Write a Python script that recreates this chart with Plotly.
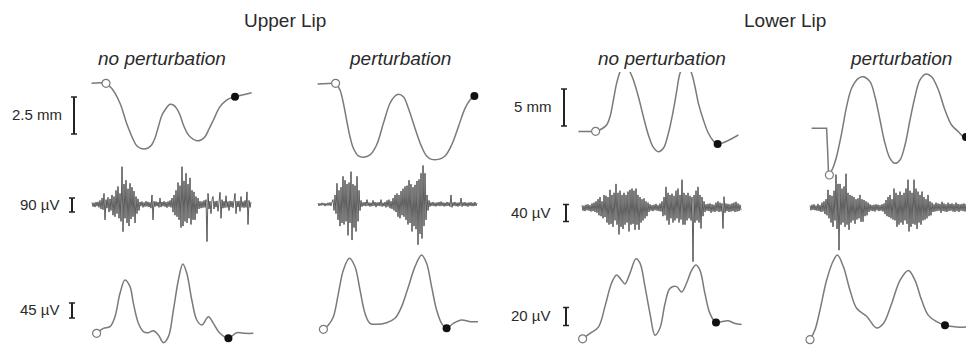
import numpy as np
import plotly.graph_objects as go

# ======================= DATA =======================
lip_titles = ["Upper Lip", "Lower Lip"]
condition_titles = ["no perturbation", "perturbation", "no perturbation", "perturbation"]

# Scale bars (value, unit) per row: movement, raw EMG, rectified EMG
ul_scale_values = [2.5, 90, 45]
ul_scale_units = ["mm", "µV", "µV"]
ll_scale_values = [5, 40, 20]
ll_scale_units = ["mm", "µV", "µV"]

# ---- Lip movement (time in ms, displacement in mm) ----
ul_np_mov_t = [18, 85, 118, 160, 193, 227, 245, 276, 300, 318, 335, 352, 370, 385, 410, 430, 443, 460,
               477, 493, 510, 543, 565, 585, 605, 627, 660, 693, 715, 735, 818]
ul_np_mov_mm = [0, 0, -0.34, -1.35, -2.70, -3.83, -4.24, -4.44, -4.37, -4.17, -3.70, -2.93, -2.14, -1.80,
                -1.42, -1.50, -1.69, -2.14, -2.82, -3.29, -3.61, -3.88, -3.83, -3.61, -3.09, -2.48, -1.58,
                -1.13, -0.99, -0.91, -0.64]
ul_np_mov_on = (90, 0.0)
ul_np_mov_off = (735, -0.91)

ul_p_mov_t = [28, 107, 118, 140, 157, 173, 190, 207, 232, 257, 290, 323, 357, 390, 415, 432, 457, 482,
              515, 548, 573, 598, 632, 665, 698, 732, 765, 790, 812]
ul_p_mov_mm = [-0.05, 0, 0, -0.45, -1.35, -2.48, -3.61, -4.39, -4.91, -5.0, -4.84, -4.17, -2.70, -1.35,
               -0.86, -0.74, -0.91, -1.69, -3.04, -4.28, -4.91, -5.14, -5.14, -4.91, -4.17, -2.93, -1.69,
               -1.13, -0.86]
ul_p_mov_on = (118, 0.0)
ul_p_mov_off = (812, -0.86)

ll_np_mov_t = [22, 80, 108, 138, 163, 180, 197, 213, 230, 255, 280, 297, 322, 347, 372, 397, 422, 447,
               472, 497, 513, 530, 560, 588, 605, 622, 647, 672, 697, 718, 822]
ll_np_mov_mm = [0, 0, 0.03, 0.34, 0.88, 2.0, 4.26, 6.51, 8.08, 9.66, 8.08, 6.96, 4.70, 2.0, -0.47, -2.14,
                -2.73, -2.27, -0.24, 2.91, 5.38, 7.86, 9.66, 7.86, 6.05, 3.81, 1.55, -0.24, -1.28, -1.69,
                -0.47]
ll_np_mov_on = (108, 0.03)
ll_np_mov_off = (718, -1.69)

ll_p_mov_t = [33, 108, 113, 117, 122, 142, 158, 183, 208, 233, 267, 292, 325, 350, 375, 400, 425, 450,
              475, 500, 525, 550, 575, 605, 633, 667, 700, 733, 767, 792, 805, 875]
ll_p_mov_mm = [0, 0, -2.93, -5.64, -6.31, -5.19, -3.81, -0.68, 2.92, 5.41, 6.76, 6.97, 6.30, 4.27, 1.12,
               -2.03, -4.05, -4.73, -4.28, -2.26, 1.12, 4.27, 6.53, 7.34, 6.97, 5.18, 2.47, 0.45, -0.46,
               -1.14, -1.18, -1.58]
ll_p_mov_on = (122, -6.31)
ll_p_mov_off = (805, -1.18)

# ---- Raw EMG (µV), one sample every 5 ms from the given start time ----
RAW_DT = 5
ul_np_raw_start = 20
ul_np_raw_uv = [
    12, -15, 10, -18, 14, -12, 16, -20,
    25, -30, 40, -35, 70, -100, 30, -25, 45, -50, 35, -40,
    60, -70, 50, -80, 90, -60, 115, -90, 70, -110,
    242, -176, 130, -90, 155, -120, 100, -140, 135, -95, 110, -80, 85, -120,
    50, -60, 35, -40,
    15, -12, 18, -20, 12, -15, 20, -14, 16, -18, 12, -25, 60, -100, 20, -15, 18, -12, 14, -20, 40, -18,
    15, -12, 20, -16, 14, -22, 18, -15, 25, -20,
    40, -50, 60, -70, 90, -80, 140, -100, 120, -150, 242, -140, 150, -110, 200, -120, 130, -90, 170, -130,
    90, -100, 80, -100, 50, -60, 40, -30,
    20, -25, 18, -22, 25, -20, 30, -240, 70, -30, 20, -60, 30, 50, -30, 20, -18, 22, -45, 25,
    77, -90, 30, -25, 20, -22, 55, -20, 18, -40, 22, -18, 20, -22, 25, 70, -60, 20, -18, 22,
    -45, 50, -20, 18, -22, 25, -20, 80, -130, 25, -20, 15]

ul_p_raw_start = 30
ul_p_raw_uv = [
    8, -10, 6, -8, 10, -6, 8, -12, 6, -8, 10, -8, 12, -10, 15,
    30, -40, 60, -60, 135, -100, 90, -140, 110, -120, 180, -130, 155, -110, 130, -200, 140, -120, 210, -230,
    130, -150, 120, -175, 180, -110, 90,
    -40, 25, -15, 12, -10, 15, -12, 30, -10, 12, -15, 10, -12, 25, -10, 15, -18, 12, -10, 14, -12, 30,
    -15, 10, -12, 15, -20, 25, -15, 30, -25, 20,
    -30, 40, -40, 60, -50, 70, -80, 60, -90, 85, -70, 100, -80, 115, -100, 120, -130, 155, -120, 130,
    -175, 110, -140, 125, -160, 150, -260, 160, -190, 200, -220, 250, -140, 200, -100, 60,
    -40, 25, -15, 12, -10, 15, -12, 10, -14, 12, -10, 15, -12, 18, -10, 12, -14, 10, -12, 15,
    -10, 12, -15, 60, -20, 12, -10, 15, -12, 10, -15, 12, -10, 40, -15, 12, -10, 14, -12, 10,
    -15, 12, -10, 14, -12, 10, -12, 15, -10, 8]

ll_np_raw_start = 40
ll_np_raw_uv = [
    6, -7, 5, -8, 7, -6, 8, -7, 6, -9, 10, -8, 12, -10, 15, -12,
    20, -18, 25, -20, 15, -25, 30, -22, 28, -35, 25, -40, 42, -38, 30, -45, 35, -30, 56, -40,
    35, -63, 40, -45, 30, -50, 35, -40, 30, -35, 38, -56, 42, -40, 45, -38, 40, -52, 45, -40,
    30, -52, 25, -35, 20, -30, 22, -25, 15, -20, 12, -10,
    8, -7, 6, -8, 7, -6, 9, -7, 6, -8, 10, -9,
    15, -20, 25, -18, 49, -30, 35, -40, 30, -25, 33, -35, 28, -30, 40, -25, 45, -35, 30, -28,
    66, -40, 35, -40, 30, -30, 35, -25, 28, -30, 25, -127, 30, -35, 40, -30, 49, -35, 30, -49,
    25, -20, 15,
    -10, 8, -7, 9, -8, 10, -12, 8, -9, 7, -10, 12, -8, 15, -10, 12, -9, 10, -49, 26,
    -12, 10, -8, 9, -10, 8, -9, 10, -8, 12, -10, 14, -9, 10, -8, 7, -6]

ll_p_raw_start = 25
ll_p_raw_uv = [
    5, -6, 7, -5, 8, -6, 5, -7, 9, -8, 6, -10, 12, -9, 15,
    -15, 20, -18, 42, -25, 30, -35, 28, -45, 40, -30, 78, -50, 56, -100, 56, -40, 45, -35, 50,
    -45, 80, -40, 35, -52, 30, -35, 28, -30, 25, -38, 20, -28, 22, -25, 30, -33, 20, -33, 18,
    -20, 15, -18, 12, -10,
    8, -7, 6, -8, 7, -9, 8, -6, 7, -8, 6, -7, 8, -9, 10,
    -15, 18, -20, 25, -22, 30, -25, 20, -28, 45, -30, 35, -45, 30, -40, 38, -35, 30, -40, 35,
    -30, 45, -38, 66, -56, 40, -45, 35, -38, 66, -40, 45, -50, 38, -35, 30, -40, 38, -30, 25,
    -28, 20, -25, 30, -20, 15, -18, 12,
    -10, 8, -9, 12, -8, 10, -7, 9, -12, 14, -8, 10, -9, 8, -10, 12, -8, 9, -7, 10,
    -9, 8, -10, 12, -8, 9, -10, 8, -7, 9, -8, 10, -9, 8, -7, 9, -8]

# ---- Rectified / smoothed EMG (time in ms, µV) ----
ul_np_rect_t = [43, 77, 110, 135, 160, 185, 210, 227, 252, 277, 302, 327, 352, 377, 402, 427, 452, 474,
                494, 519, 544, 569, 602, 627, 660, 702, 743, 785, 827]
ul_np_rect_uv = [38, 53, 58, 88, 158, 198, 178, 128, 68, 43, 40, 46, 33, 10, 28, 108, 198, 246, 218, 138,
                 78, 63, 88, 68, 38, 23, 40, 38, 38]
ul_np_rect_on = (43, 38)
ul_np_rect_off = (702, 23)

ul_p_rect_t = [57, 82, 107, 132, 157, 187, 215, 240, 265, 290, 323, 373, 415, 448, 482, 515, 548, 573,
               598, 623, 648, 673, 707, 748, 790, 830]
ul_p_rect_uv = [50, 63, 88, 158, 228, 263, 238, 168, 98, 68, 65, 70, 83, 118, 178, 238, 273, 248, 178,
                108, 68, 53, 68, 78, 73, 73]
ul_p_rect_on = (57, 50)
ul_p_rect_off = (673, 53)

ll_np_rect_t = [43, 80, 122, 155, 188, 213, 238, 255, 280, 310, 330, 355, 380, 405, 430, 455, 480, 513,
                538, 563, 588, 610, 630, 655, 680, 710, 738, 772, 805, 838]
ll_np_rect_uv = [8, 14, 21, 44, 70, 79, 73, 69, 81, 97, 92, 66, 36, 12, 20, 47, 64, 66, 60, 70, 84, 90,
                 84, 58, 36, 26, 27, 28, 25, 24]
ll_np_rect_on = (43, 8)
ll_np_rect_off = (710, 26)

ll_p_rect_t = [25, 50, 75, 108, 142, 162, 192, 225, 258, 308, 358, 392, 433, 475, 517, 550, 583, 617,
               658, 700, 758, 805, 875]
ll_p_rect_uv = [7, 18, 40, 73, 95, 101, 88, 62, 42, 33, 20, 25, 47, 73, 84, 73, 51, 34, 27, 23, 21, 21, 21]
ll_p_rect_on = (25, 7)
ll_p_rect_off = (700, 23)

# ======================= LAYOUT / STYLE =======================
W, H = 966, 347
MS_PER_PX = 5.0
FONT = "Liberation Sans, Arial, Helvetica, sans-serif"
TRACE_GRAY = "#7a7a7a"
RAW_COLOR = "#1c1c1c"
TEXT_COLOR = "#2a2a2a"

cols_px = [(88, 260), (312, 484), (574, 746), (805, 966)]

# (domain top px, domain bottom px, zero px, px per unit)
geom = {
    (0, 0): (66, 172, 83.3, 37 / 2.5),
    (1, 0): (66, 172, 83.3, 37 / 2.5),
    (2, 0): (72, 168, 131.5, 37 / 5),
    (3, 0): (60, 190, 128.3, 37 / 5),
    (0, 1): (160, 252, 204.3, 14 / 90),
    (1, 1): (160, 252, 204.3, 14 / 90),
    (2, 1): (160, 272, 207.7, 17 / 40),
    (3, 1): (160, 272, 207.7, 17 / 40),
    (0, 2): (245, 347, 346.0, 15 / 45),
    (1, 2): (245, 347, 346.0, 15 / 45),
    (2, 2): (245, 347, 346.0, 18 / 20),
    (3, 2): (245, 347, 346.0, 18 / 20),
}

layout_axes = {}


def axis_suffix(col, row):
    n = col * 3 + row + 1
    return "" if n == 1 else str(n)


for (col, row), (top, bot, zero, ppu) in geom.items():
    s = axis_suffix(col, row)
    L, R = cols_px[col]
    layout_axes["xaxis" + s] = dict(domain=[L / W, R / W], range=[0, (R - L) * MS_PER_PX],
                                    visible=False, anchor="y" + s, fixedrange=True)
    layout_axes["yaxis" + s] = dict(domain=[1 - bot / H, 1 - top / H],
                                    range=[(zero - bot) / ppu, (zero - top) / ppu],
                                    visible=False, anchor="x" + s, fixedrange=True)

fig = go.Figure()


def add_line(col, row, t, v, color=TRACE_GRAY, width=1.5, shape="spline", smoothing=1.0):
    s = axis_suffix(col, row)
    line = dict(color=color, width=width, shape=shape)
    if shape == "spline":
        line["smoothing"] = smoothing
    fig.add_trace(go.Scatter(x=t, y=v, mode="lines", line=line, xaxis="x" + s, yaxis="y" + s,
                             hoverinfo="skip"))


def add_markers(col, row, on, off):
    s = axis_suffix(col, row)
    if on is not None:
        fig.add_trace(go.Scatter(x=[on[0]], y=[on[1]], mode="markers",
                                 marker=dict(symbol="circle", size=8, color="white",
                                             line=dict(color="#7a7a7a", width=1.2)),
                                 xaxis="x" + s, yaxis="y" + s, hoverinfo="skip"))
    if off is not None:
        fig.add_trace(go.Scatter(x=[off[0]], y=[off[1]], mode="markers",
                                 marker=dict(symbol="circle", size=8, color="#111111",
                                             line=dict(width=0)),
                                 xaxis="x" + s, yaxis="y" + s, hoverinfo="skip"))


# Movement
add_line(0, 0, ul_np_mov_t, ul_np_mov_mm)
add_line(1, 0, ul_p_mov_t, ul_p_mov_mm)
add_line(2, 0, ll_np_mov_t, ll_np_mov_mm)
add_line(3, 0, ll_p_mov_t[:5], ll_p_mov_mm[:5], shape="linear")
add_line(3, 0, ll_p_mov_t[4:], ll_p_mov_mm[4:])

# Raw EMG
for col, start, vals in [(0, ul_np_raw_start, ul_np_raw_uv), (1, ul_p_raw_start, ul_p_raw_uv),
                         (2, ll_np_raw_start, ll_np_raw_uv), (3, ll_p_raw_start, ll_p_raw_uv)]:
    t = start + RAW_DT * np.arange(len(vals))
    add_line(col, 1, t, vals, color=RAW_COLOR, width=0.7, shape="linear")

# Rectified EMG
add_line(0, 2, ul_np_rect_t, ul_np_rect_uv)
add_line(1, 2, ul_p_rect_t, ul_p_rect_uv)
add_line(2, 2, ll_np_rect_t, ll_np_rect_uv)
add_line(3, 2, ll_p_rect_t, ll_p_rect_uv)

# On/offset markers
add_markers(0, 0, ul_np_mov_on, ul_np_mov_off)
add_markers(1, 0, ul_p_mov_on, ul_p_mov_off)
add_markers(2, 0, ll_np_mov_on, ll_np_mov_off)
add_markers(3, 0, ll_p_mov_on, ll_p_mov_off)
add_markers(0, 2, ul_np_rect_on, ul_np_rect_off)
add_markers(1, 2, ul_p_rect_on, ul_p_rect_off)
add_markers(2, 2, ll_np_rect_on, ll_np_rect_off)
add_markers(3, 2, ll_p_rect_on, ll_p_rect_off)

# Scale bars
shapes = []
annotations = []
# (col of the panel whose y-axis is used, row, bar x px, bar centre y px, label right px)
bar_geom = [
    (0, 0, 74, 115.5, 64), (0, 1, 72, 205.0, 62), (0, 2, 72, 310.5, 62),
    (2, 0, 564, 107.5, 554), (2, 1, 566, 213.0, 553), (2, 2, 566, 316.5, 553),
]
bar_vals = ul_scale_values + ll_scale_values
bar_units = ul_scale_units + ll_scale_units
for (col, row, bx, cy, lx), val, unit in zip(bar_geom, bar_vals, bar_units):
    top, bot, zero, ppu = geom[(col, row)]
    s = axis_suffix(col, row)
    c = (zero - cy) / ppu
    y0, y1 = c - val / 2, c + val / 2
    shapes.append(dict(type="line", xref="paper", yref="y" + s, x0=bx / W, x1=bx / W, y0=y0, y1=y1,
                       line=dict(color="#222222", width=2)))
    for yy in (y0, y1):
        shapes.append(dict(type="line", xref="paper", yref="y" + s, x0=(bx - 3) / W, x1=(bx + 3) / W,
                           y0=yy, y1=yy, line=dict(color="#222222", width=1.5)))
    label = (f"{val:g} {unit}")
    annotations.append(dict(text=label, xref="paper", yref="y" + s, x=lx / W, y=c + 1.0 / ppu,
                            xanchor="right", yanchor="middle", showarrow=False,
                            font=dict(family=FONT, size=15, color=TEXT_COLOR)))

# Titles
for txt, cx in zip(lip_titles, [285, 785]):
    annotations.append(dict(text=txt, xref="paper", yref="paper", x=cx / W, y=1 - 21 / H,
                            xanchor="center", yanchor="middle", showarrow=False,
                            font=dict(family=FONT, size=19, color=TEXT_COLOR)))
for txt, cx in zip(condition_titles, [162, 400, 662, 901]):
    annotations.append(dict(text=f"<i>{txt}</i>", xref="paper", yref="paper", x=cx / W, y=1 - 58 / H,
                            xanchor="center", yanchor="middle", showarrow=False,
                            font=dict(family=FONT, size=19, color=TEXT_COLOR)))

fig.update_layout(
    width=W, height=H, margin=dict(l=0, r=0, t=0, b=0),
    paper_bgcolor="white", plot_bgcolor="rgba(0,0,0,0)",
    showlegend=False, shapes=shapes, annotations=annotations,
    **layout_axes,
)

fig.write_html("out.html")
